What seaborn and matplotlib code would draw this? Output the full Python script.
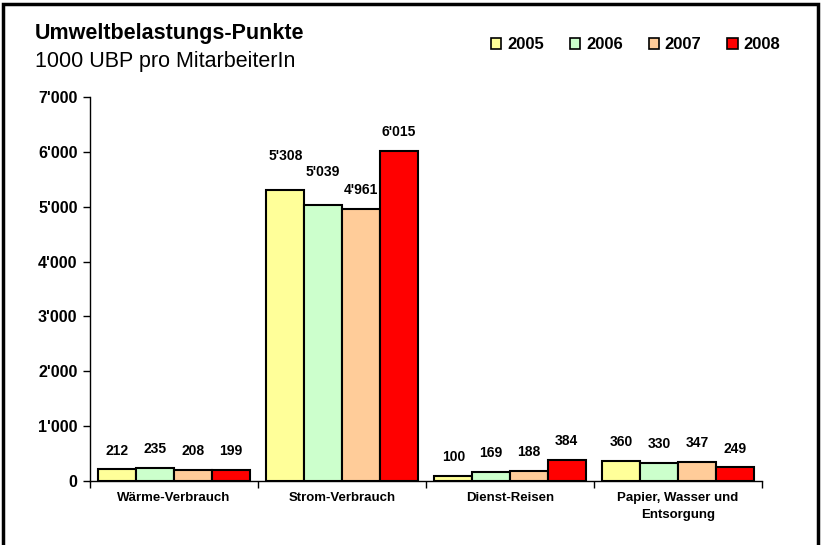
import matplotlib
matplotlib.use("Agg")
import matplotlib.pyplot as plt
import seaborn as sns
import pandas as pd
from matplotlib.patches import Rectangle
from matplotlib.ticker import FuncFormatter, FixedLocator

categories = ["Wärme-Verbrauch", "Strom-Verbrauch", "Dienst-Reisen", "Papier, Wasser und\nEntsorgung"]
years = ["2005", "2006", "2007", "2008"]
v2005 = [212, 5308, 100, 360]
v2006 = [235, 5039, 169, 330]
v2007 = [208, 4961, 188, 347]
v2008 = [199, 6015, 384, 249]
yticks = [0, 1000, 2000, 3000, 4000, 5000, 6000, 7000]

colors = ["#FFFF99", "#CCFFCC", "#FFCC99", "#FF0000"]

rows = []
for yr, vals in zip(years, [v2005, v2006, v2007, v2008]):
    for c, v in zip(categories, vals):
        rows.append({"Kategorie": c, "Jahr": yr, "Wert": v})
df = pd.DataFrame(rows)

sns.set_theme(style="white")
plt.rcParams["font.family"] = ["Liberation Sans", "DejaVu Sans"]
plt.rcParams["text.color"] = "black"
plt.rcParams["xtick.labelcolor"] = "black"
plt.rcParams["ytick.labelcolor"] = "black"
plt.rcParams["axes.labelcolor"] = "black"

fig = plt.figure(figsize=(8.21, 5.45), dpi=100)
ax = fig.add_axes([90 / 821, 1 - 481 / 545, (762 - 90) / 821, (481 - 97) / 545])

sns.barplot(data=df, x="Kategorie", y="Wert", hue="Jahr", order=categories,
            hue_order=years, palette=colors, width=0.9, gap=0,
            edgecolor="black", linewidth=1.5, saturation=1, ax=ax, legend=True)

def fmt(v):
    return f"{int(v):,}".replace(",", "'")

# extra label lift (points) for labels that sit higher in the reference
extra = {("2005", 1): 10.5, ("2006", 1): 10}
for yi, cont in enumerate(ax.containers):
    for ci, bar in enumerate(cont):
        h = bar.get_height()
        pad = 8.5 + extra.get((years[yi], ci), 0)
        ax.annotate(fmt(h), (bar.get_x() + bar.get_width() / 2, h),
                    xytext=(0, pad), textcoords="offset points",
                    ha="center", va="bottom", fontsize=10, fontweight="bold",
                    color="black")

ax.set_ylim(0, 7000)
ax.set_xlim(-0.5, 3.5)
ax.set_yticks(yticks)
ax.yaxis.set_major_formatter(FuncFormatter(lambda v, p: fmt(v)))
ax.tick_params(axis="y", which="major", direction="out", length=5, width=1,
               labelsize=11.5, pad=4, left=True, color="black", labelcolor="black")
for t in ax.get_yticklabels():
    t.set_fontweight("bold")

ax.set_xticks(range(len(categories)))
ax.set_xticklabels(categories, fontsize=9.5, fontweight="bold", linespacing=1.55)
ax.xaxis.set_minor_locator(FixedLocator([-0.5, 0.5, 1.5, 2.5, 3.5]))
ax.tick_params(axis="x", which="major", length=0, pad=8, labelcolor="black")
ax.tick_params(axis="x", which="minor", direction="out", length=5, width=1,
               bottom=True, color="black")

ax.set_xlabel("")
ax.set_ylabel("")
for s in ["top", "right"]:
    ax.spines[s].set_visible(False)
for s in ["left", "bottom"]:
    ax.spines[s].set_color("black")
    ax.spines[s].set_linewidth(1)

leg = ax.legend(loc="center left", bbox_to_anchor=(491 / 821, 1 - 44.5 / 545),
                bbox_transform=fig.transFigure, ncol=4, frameon=False,
                borderpad=0, borderaxespad=0,
                handlelength=0.62, handleheight=0.62, handletextpad=0.35,
                columnspacing=1.55, prop={"weight": "bold", "size": 12},
                labelcolor="black")
for h in leg.legend_handles:
    h.set_edgecolor("black")
    h.set_linewidth(1.2)

fig.text(35 / 821, 1 - 33 / 545, "Umweltbelastungs-Punkte", fontsize=15.5,
         fontweight="bold", ha="left", va="center", color="black")
fig.text(35 / 821, 1 - 62 / 545, "1000 UBP pro MitarbeiterIn", fontsize=15.5,
         ha="left", va="center", color="black")

fig.patches.append(Rectangle((2.5 / 821, -0.05), (818 - 2.5) / 821, 1.05 - 3.5 / 545,
                             transform=fig.transFigure, fill=False,
                             edgecolor="black", linewidth=2.5, zorder=10))

fig.savefig("out.png", dpi=100)
